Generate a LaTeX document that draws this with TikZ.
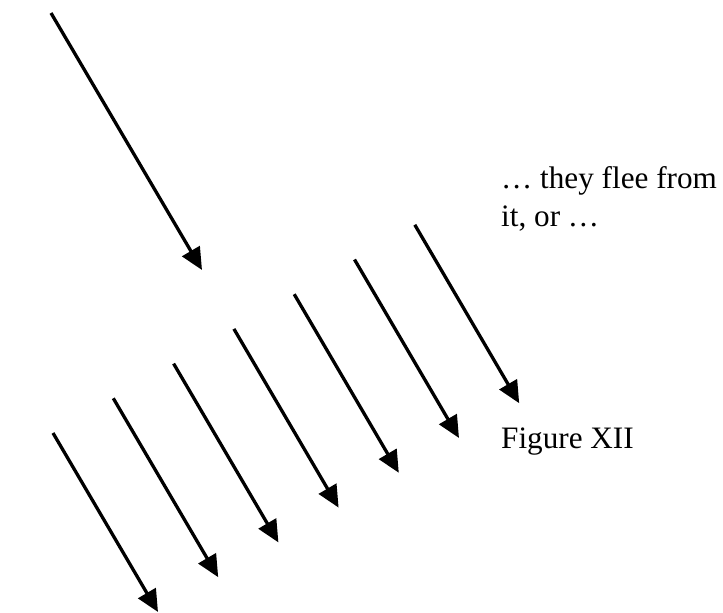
\documentclass[tikz,border=0pt]{standalone}
\usepackage{fontspec}
\setmainfont{Liberation Serif}
\usetikzlibrary{arrows.meta}
\begin{document}
\begin{tikzpicture}[x=1pt,y=-1pt,
  arrowline/.style={line width=3.3pt,-{Triangle[length=22pt,width=20pt]}},
  caption/.style={anchor=base west,inner sep=0pt,font=\fontsize{31.2}{37}\selectfont}]
\useasboundingbox (0,0) rectangle (723,613);
\coordinate (bs) at (51,13);
\coordinate (be) at (202,270);
\draw[arrowline] (bs) -- (be);
\foreach \i in {0,...,6}{
  \coordinate (s\i) at ({53+60.3*\i},{433-34.7*\i});
  \coordinate (e\i) at ({158+60.2*\i},{612-34.8*\i});
  \draw[arrowline] (s\i) -- (e\i);
}
\node[caption] (t1) at (501,188) {… they flee from};
\node[caption] (t2) at (501,226) {it, or …};
\node[caption] (fig) at (501,448) {Figure XII};
\end{tikzpicture}
\end{document}
